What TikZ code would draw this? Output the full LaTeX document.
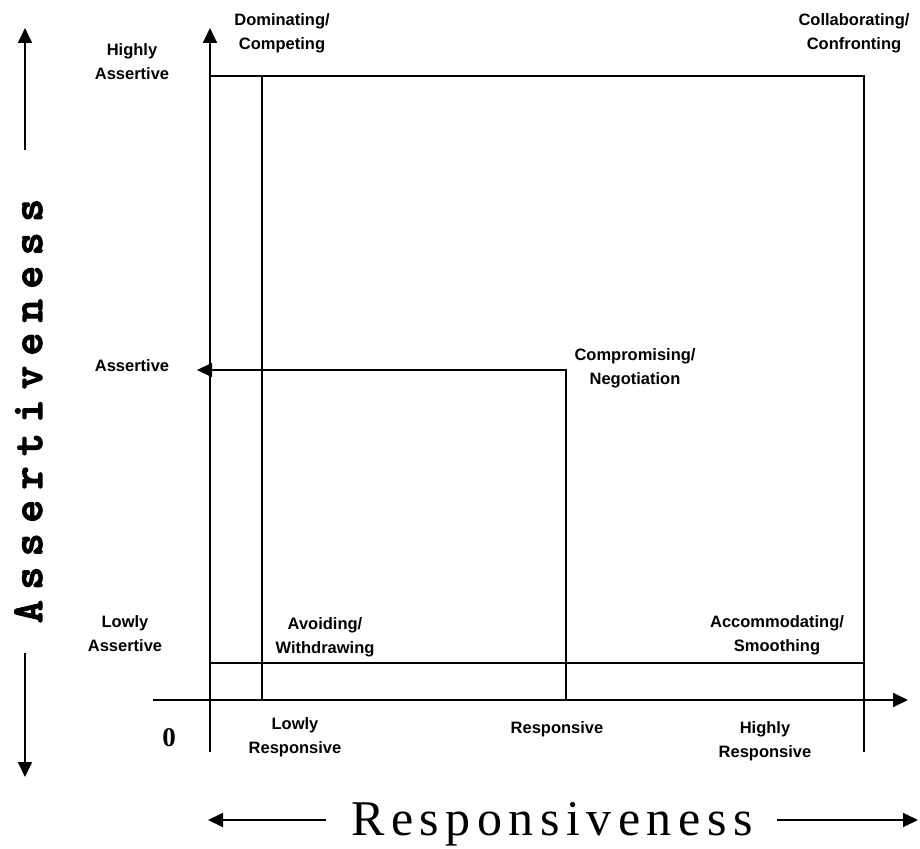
\documentclass[tikz,border=0pt]{standalone}
\usepackage{fontspec}
\setmainfont{Liberation Sans}
\newfontfamily\serifbig[LetterSpace=13]{Liberation Serif}
\newfontfamily\serifplain{Liberation Serif}
\newfontfamily\monobig[LetterSpace=23.5,FakeBold=2.5]{lmmonolt10-bold.otf}
\usetikzlibrary{arrows.meta}
\begin{document}
\begin{tikzpicture}[x=1pt,y=-1pt,
  ln/.style={line width=1.8pt},
  arr/.style={ln,-{Triangle[length=15pt,width=14pt]}},
  lbl/.style={font=\bfseries\fontsize{16.5}{24}\selectfont, align=center, inner sep=0pt},
]
\useasboundingbox (0,0) rectangle (920,848);
% frame coordinates
\coordinate (Yb) at (210,752);
\coordinate (Yt) at (210,28);
\coordinate (Xl) at (153,700);
\coordinate (Xr) at (908,700);
\coordinate (TL) at (210,76);
\coordinate (TR) at (864,76);
\coordinate (RB) at (864,752);
\coordinate (L1t) at (262,76);
\coordinate (L1b) at (262,700);
\coordinate (H1l) at (210,663);
\coordinate (H1r) at (864,663);
\coordinate (Mc) at (566,370);
\coordinate (Mb) at (566,700);
\coordinate (Mtip) at (197,370);
% outer arrows
\coordinate (UAb) at (25,150);
\coordinate (UAt) at (25,28);
\coordinate (DAt) at (25,653);
\coordinate (DAb) at (25,777);
\coordinate (LAr) at (326,820);
\coordinate (LAl) at (208,820);
\coordinate (RAl) at (777,820);
\coordinate (RAr) at (918,820);

\draw[arr] (Yb) -- (Yt);
\draw[arr] (Xl) -- (Xr);
\draw[ln] (TL) -- (TR) -- (RB);
\draw[ln] (L1t) -- (L1b);
\draw[ln] (H1l) -- (H1r);
\draw[arr] (Mb) -- (Mc) -- (Mtip);

\draw[arr] (UAb) -- (UAt);
\draw[arr] (DAt) -- (DAb);
\draw[arr] (LAr) -- (LAl);
\draw[arr] (RAl) -- (RAr);

% big axis titles
\node[anchor=base, inner sep=0pt, font=\serifbig\fontsize{50}{50}\selectfont] (resp) at (552,835) {Responsiveness};
\node[anchor=base, rotate=90, inner sep=0pt, font=\monobig\fontsize{44}{44}\selectfont] (asrt) at (42,411) {Assertiveness};

% labels
\node[lbl] (hA) at (132,62) {Highly\\Assertive};
\node[lbl] (dom) at (282,33) {Dominating/\\Competing};
\node[lbl] (col) at (854,33) {Collaborating/\\Confronting};
\node[lbl] (mA) at (132,366) {Assertive};
\node[lbl] (com) at (635,368) {Compromising/\\Negotiation};
\node[lbl] (lA) at (125,634) {Lowly\\Assertive};
\node[lbl] (avo) at (325,637) {Avoiding/\\Withdrawing};
\node[lbl] (acc) at (777,635) {Accommodating/\\Smoothing};
\node[inner sep=0pt, font=\serifplain\bfseries\fontsize{27}{27}\selectfont] (zero) at (169,738) {0};
\node[lbl] (lR) at (295,737) {Lowly\\Responsive};
\node[lbl] (mR) at (557,729) {Responsive};
\node[lbl] (hR) at (765,741) {Highly\\Responsive};
\end{tikzpicture}
\end{document}
